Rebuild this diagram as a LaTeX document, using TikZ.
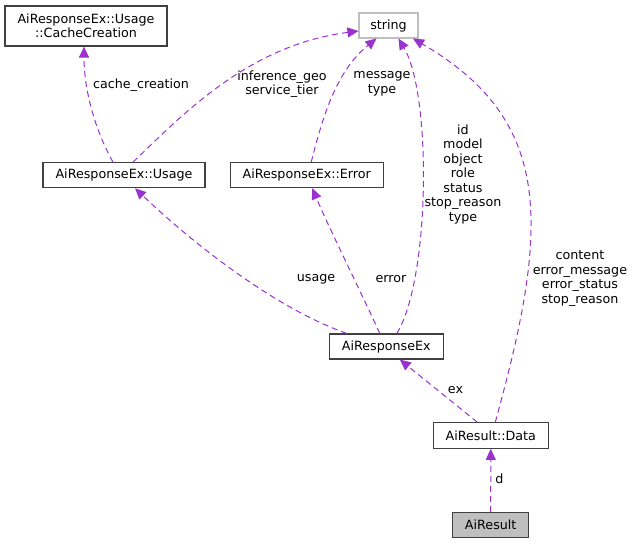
\documentclass[tikz,border=0pt]{standalone}
\usepackage{fontspec}
\setmainfont{DejaVu Sans}
\usetikzlibrary{arrows.meta}
\definecolor{edgecol}{HTML}{9A32CD}
\definecolor{boxline}{HTML}{404040}
\definecolor{lightline}{HTML}{BFBFBF}
\definecolor{curfill}{HTML}{BFBFBF}
\tikzset{
  cls/.style={draw=boxline, line width=1.1pt, fill=white, inner sep=0pt, align=center,
    font=\fontsize{12.7}{14.5}\selectfont},
  lbl/.style={inner sep=0pt, align=center, font=\fontsize{12.7}{14.5}\selectfont},
  rel/.style={draw=edgecol, line width=1pt, dash pattern=on 6pt off 4pt,
    -{Triangle[length=11pt,width=10pt]}},
}
\begin{document}
\begin{tikzpicture}[x=1pt,y=-1pt]
\useasboundingbox (0,0) rectangle (633,544);
% nodes
\node[cls, minimum width=162pt, minimum height=40pt] (cc) at (86,26) {AiResponseEx::Usage\\::CacheCreation};
\node[cls, draw=lightline, minimum width=59pt, minimum height=25pt] (str) at (388.5,25.5) {string};
\node[cls, minimum width=162pt, minimum height=25pt] (usage) at (124,175.2) {AiResponseEx::Usage};
\node[cls, minimum width=153pt, minimum height=25pt] (err) at (306.7,175.2) {AiResponseEx::Error};
\node[cls, minimum width=114pt, minimum height=25pt] (rex) at (386.3,346.5) {AiResponseEx};
\node[cls, minimum width=115pt, minimum height=25.5pt] (data) at (490.8,435.5) {AiResult::Data};
\node[cls, fill=curfill, minimum width=76pt, minimum height=25pt] (ares) at (490.7,525) {AiResult};
% edges
\draw[rel] ([xshift=-11pt]usage.north) .. controls (95,130) and (84,90) .. ([xshift=-2pt]cc.south);
\draw[rel] ([xshift=9pt]usage.north) .. controls (185,112) and (250,45) .. ([yshift=-5.5pt]str.west);
\draw[rel] ([xshift=4.5pt]err.north) .. controls (322,120) and (335,72) .. ([xshift=-12pt]str.south);
\draw[rel] ([xshift=10.5pt]rex.north) .. controls (430,280) and (432,95) .. ([xshift=10pt]str.south);
\draw[rel] ([xshift=4.5pt]data.north) .. controls (515,350) and (532,280) .. (531,220)
  .. controls (530,150) and (505,92) .. ([xshift=24.5pt]str.south);
\draw[rel] ([xshift=-39.5pt]rex.north) .. controls (280,310) and (200,250) .. ([xshift=11pt]usage.south);
\draw[rel] ([xshift=-6.5pt]rex.north) .. controls (360,290) and (330,230) .. ([xshift=5.5pt]err.south);
\draw[rel] ([xshift=-13.5pt]data.north) -- ([xshift=13.5pt]rex.south);
\draw[rel] (ares.north) -- (data.south);
% labels
\node[lbl] (l1) at (141,85) {cache\_creation};
\node[lbl] (l2) at (282,84) {inference\_geo\\service\_tier};
\node[lbl] (l3) at (382,84) {message\\type};
\node[lbl] (l4) at (463,174) {id\\model\\object\\role\\status\\stop\_reason\\type};
\node[lbl] (l5) at (580,278.5) {content\\error\_message\\error\_status\\stop\_reason};
\node[lbl] (l6) at (316,279) {usage};
\node[lbl] (l7) at (391,279) {error};
\node[lbl] (l8) at (455.5,390) {ex};
\node[lbl] (l9) at (499.5,479) {d};
\end{tikzpicture}
\end{document}
